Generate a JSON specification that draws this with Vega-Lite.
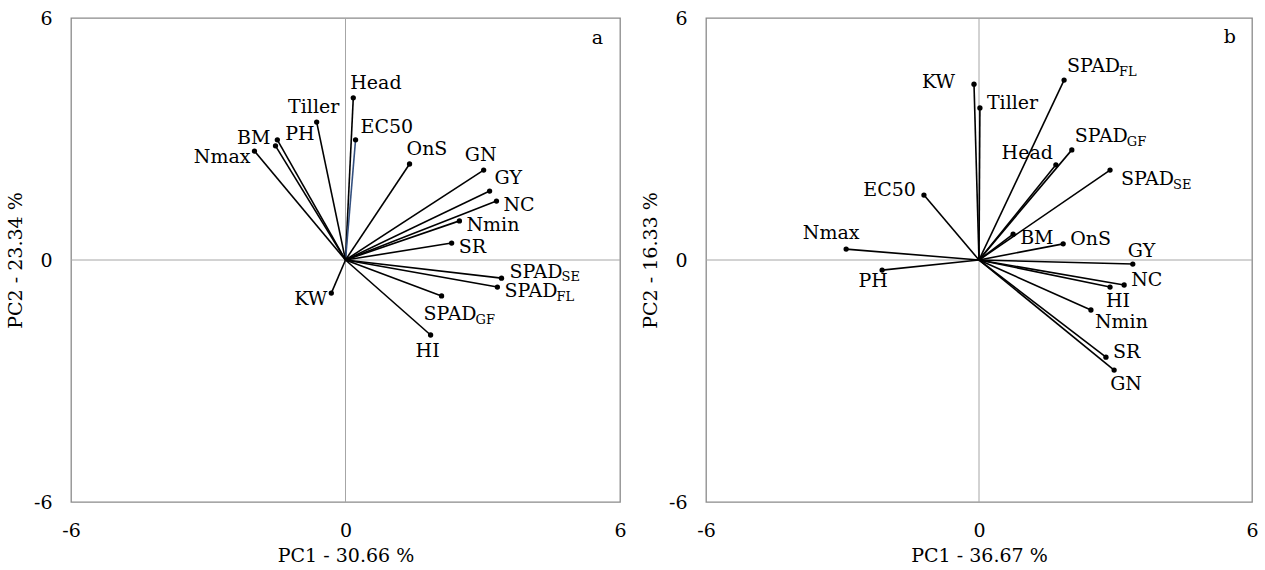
{
  "$schema": "https://vega.github.io/schema/vega-lite/v6.json",
  "padding": {"left": 5, "top": 8, "right": 5, "bottom": 0},
  "background": "white",
  "spacing": 86,
  "bounds": "flush",
  "config": {
    "font": "DejaVu Serif",
    "view": {"stroke": "#8a8a8a", "strokeWidth": 1.3},
    "axis": {"grid": false, "domain": false, "ticks": false, "labelFont": "DejaVu Serif", "labelFontSize": 19, "titleFont": "DejaVu Serif", "titleFontSize": 19, "titleFontWeight": "normal", "labelColor": "#000", "titleColor": "#000", "labelFlush": false, "labelOverlap": false, "labelBound": false, "labelExpr": "'' + datum.value"},
    "text": {"font": "DejaVu Serif", "fontSize": 19, "color": "#000"}
  },
  "datasets": {
    "pa": [
      {"name": "Head", "label": "Head", "sub": "", "x": 0.17, "y": 4.02},
      {"name": "EC50", "label": "EC50", "sub": "", "x": 0.22, "y": 2.98},
      {"name": "Tiller", "label": "Tiller", "sub": "", "x": -0.63, "y": 3.42},
      {"name": "PH", "label": "PH", "sub": "", "x": -1.49, "y": 2.98},
      {"name": "BM", "label": "BM", "sub": "", "x": -1.53, "y": 2.83},
      {"name": "Nmax", "label": "Nmax", "sub": "", "x": -1.99, "y": 2.70},
      {"name": "OnS", "label": "OnS", "sub": "", "x": 1.40, "y": 2.38},
      {"name": "GN", "label": "GN", "sub": "", "x": 3.02, "y": 2.23},
      {"name": "GY", "label": "GY", "sub": "", "x": 3.15, "y": 1.71},
      {"name": "NC", "label": "NC", "sub": "", "x": 3.30, "y": 1.46},
      {"name": "Nmin", "label": "Nmin", "sub": "", "x": 2.49, "y": 0.97},
      {"name": "SR", "label": "SR", "sub": "", "x": 2.32, "y": 0.42},
      {"name": "SPAD_SE", "label": "SPAD", "sub": "SE", "x": 3.41, "y": -0.45},
      {"name": "SPAD_FL", "label": "SPAD", "sub": "FL", "x": 3.32, "y": -0.67},
      {"name": "SPAD_GF", "label": "SPAD", "sub": "GF", "x": 2.10, "y": -0.89},
      {"name": "HI", "label": "HI", "sub": "", "x": 1.86, "y": -1.86},
      {"name": "KW", "label": "KW", "sub": "", "x": -0.31, "y": -0.82}
    ],
    "pb": [
      {"name": "KW", "label": "KW", "sub": "", "x": -0.11, "y": 4.36},
      {"name": "Tiller", "label": "Tiller", "sub": "", "x": 0.02, "y": 3.77},
      {"name": "SPAD_FL", "label": "SPAD", "sub": "FL", "x": 1.87, "y": 4.46},
      {"name": "SPAD_GF", "label": "SPAD", "sub": "GF", "x": 2.04, "y": 2.73},
      {"name": "Head", "label": "Head", "sub": "", "x": 1.69, "y": 2.36},
      {"name": "SPAD_SE", "label": "SPAD", "sub": "SE", "x": 2.88, "y": 2.23},
      {"name": "EC50", "label": "EC50", "sub": "", "x": -1.21, "y": 1.61},
      {"name": "Nmax", "label": "Nmax", "sub": "", "x": -2.92, "y": 0.27},
      {"name": "PH", "label": "PH", "sub": "", "x": -2.13, "y": -0.25},
      {"name": "BM", "label": "BM", "sub": "", "x": 0.75, "y": 0.64},
      {"name": "OnS", "label": "OnS", "sub": "", "x": 1.85, "y": 0.40},
      {"name": "GY", "label": "GY", "sub": "", "x": 3.38, "y": -0.10},
      {"name": "NC", "label": "NC", "sub": "", "x": 3.19, "y": -0.62},
      {"name": "HI", "label": "HI", "sub": "", "x": 2.88, "y": -0.67},
      {"name": "Nmin", "label": "Nmin", "sub": "", "x": 2.46, "y": -1.24},
      {"name": "SR", "label": "SR", "sub": "", "x": 2.79, "y": -2.41},
      {"name": "GN", "label": "GN", "sub": "", "x": 2.97, "y": -2.73}
    ]
  },
  "hconcat": [
    {
      "width": 549,
      "height": 484,
      "data": {"name": "pa"},
      "layer": [
        {
          "mark": {"type": "rule", "color": "#a6a6a6", "strokeWidth": 1},
          "encoding": {
            "x": {"field": "x", "type": "quantitative", "scale": {"domain": [-6, 6], "nice": false, "zero": false}, "axis": {"values": [-6, 0, 6], "title": "PC1 - 30.66 %", "labelPadding": 19, "titlePadding": 6}},
            "y": {"field": "y", "type": "quantitative", "scale": {"domain": [-6, 6], "nice": false, "zero": false}, "axis": {"values": [-6, 0, 6], "title": "PC2 - 23.34 %", "labelPadding": 19, "titlePadding": 8}},
            "opacity": {"value": 0}
          }
        },
        {"data": {"values": [{}]}, "mark": {"type": "rule", "color": "#a6a6a6", "strokeWidth": 1}, "encoding": {"x": {"datum": 0}}},
        {"data": {"values": [{}]}, "mark": {"type": "rule", "color": "#a6a6a6", "strokeWidth": 1}, "encoding": {"y": {"datum": 0}}},
        {
          "mark": {"type": "rule", "strokeWidth": 1.6},
          "encoding": {
            "x": {"field": "x", "type": "quantitative"},
            "y": {"field": "y", "type": "quantitative"},
            "x2": {"datum": 0},
            "y2": {"datum": 0},
            "color": {"condition": {"test": "datum.name === 'EC50'", "value": "#34507f"}, "value": "#000"}
          }
        },
        {
          "mark": {"type": "point", "filled": true, "size": 28, "color": "#000", "opacity": 1},
          "encoding": {"x": {"field": "x", "type": "quantitative"}, "y": {"field": "y", "type": "quantitative"}}
        },
        {"transform": [{"filter": {"field": "name", "oneOf": ["NC", "Nmin", "SR", "SPAD_FL"]}}], "mark": {"type": "text", "align": "left", "baseline": "middle", "dx": 7, "dy": 4}, "encoding": {"x": {"field": "x", "type": "quantitative"}, "y": {"field": "y", "type": "quantitative"}, "text": {"field": "label"}}},
        {"transform": [{"filter": {"field": "name", "oneOf": ["Head", "OnS"]}}], "mark": {"type": "text", "align": "left", "baseline": "middle", "dx": -3, "dy": -15}, "encoding": {"x": {"field": "x", "type": "quantitative"}, "y": {"field": "y", "type": "quantitative"}, "text": {"field": "label"}}},
        {"transform": [{"filter": {"field": "name", "oneOf": ["GY", "EC50"]}}], "mark": {"type": "text", "align": "left", "baseline": "middle", "dx": 5, "dy": -13}, "encoding": {"x": {"field": "x", "type": "quantitative"}, "y": {"field": "y", "type": "quantitative"}, "text": {"field": "label"}}},
        {"transform": [{"filter": {"field": "name", "oneOf": ["PH", "SPAD_SE"]}}], "mark": {"type": "text", "align": "left", "baseline": "middle", "dx": 8, "dy": -6}, "encoding": {"x": {"field": "x", "type": "quantitative"}, "y": {"field": "y", "type": "quantitative"}, "text": {"field": "label"}}},
        {"transform": [{"filter": {"field": "name", "oneOf": ["Tiller", "GN"]}}], "mark": {"type": "text", "align": "center", "baseline": "middle", "dx": -3, "dy": -15}, "encoding": {"x": {"field": "x", "type": "quantitative"}, "y": {"field": "y", "type": "quantitative"}, "text": {"field": "label"}}},
        {"transform": [{"filter": {"field": "name", "oneOf": ["Nmax", "KW"]}}], "mark": {"type": "text", "align": "right", "baseline": "middle", "dx": -4, "dy": 6}, "encoding": {"x": {"field": "x", "type": "quantitative"}, "y": {"field": "y", "type": "quantitative"}, "text": {"field": "label"}}},
        {"transform": [{"filter": {"field": "name", "oneOf": ["BM"]}}], "mark": {"type": "text", "align": "right", "baseline": "middle", "dx": -5, "dy": -8}, "encoding": {"x": {"field": "x", "type": "quantitative"}, "y": {"field": "y", "type": "quantitative"}, "text": {"field": "label"}}},
        {"transform": [{"filter": {"field": "name", "oneOf": ["HI"]}}], "mark": {"type": "text", "align": "center", "baseline": "middle", "dx": -3, "dy": 16}, "encoding": {"x": {"field": "x", "type": "quantitative"}, "y": {"field": "y", "type": "quantitative"}, "text": {"field": "label"}}},
        {"transform": [{"filter": {"field": "name", "oneOf": ["SPAD_GF"]}}], "mark": {"type": "text", "align": "left", "baseline": "middle", "dx": -18, "dy": 18}, "encoding": {"x": {"field": "x", "type": "quantitative"}, "y": {"field": "y", "type": "quantitative"}, "text": {"field": "label"}}},
        {"transform": [{"filter": {"field": "name", "oneOf": ["SPAD_FL"]}}], "mark": {"type": "text", "align": "left", "baseline": "middle", "fontSize": 13, "dx": 59, "dy": 10}, "encoding": {"x": {"field": "x", "type": "quantitative"}, "y": {"field": "y", "type": "quantitative"}, "text": {"field": "sub"}}},
        {"transform": [{"filter": {"field": "name", "oneOf": ["SPAD_SE"]}}], "mark": {"type": "text", "align": "left", "baseline": "middle", "fontSize": 13, "dx": 60, "dy": -1}, "encoding": {"x": {"field": "x", "type": "quantitative"}, "y": {"field": "y", "type": "quantitative"}, "text": {"field": "sub"}}},
        {"transform": [{"filter": {"field": "name", "oneOf": ["SPAD_GF"]}}], "mark": {"type": "text", "align": "left", "baseline": "middle", "fontSize": 13, "dx": 34, "dy": 24}, "encoding": {"x": {"field": "x", "type": "quantitative"}, "y": {"field": "y", "type": "quantitative"}, "text": {"field": "sub"}}},
        {"data": {"values": [{}]}, "mark": {"type": "text", "align": "right", "baseline": "alphabetic", "dx": -17, "dy": 26, "text": "a"}, "encoding": {"x": {"datum": 6}, "y": {"datum": 6}}}
      ]
    },
    {
      "width": 546,
      "height": 484,
      "data": {"name": "pb"},
      "layer": [
        {
          "mark": {"type": "rule", "color": "#a6a6a6", "strokeWidth": 1},
          "encoding": {
            "x": {"field": "x", "type": "quantitative", "scale": {"domain": [-6, 6], "nice": false, "zero": false}, "axis": {"values": [-6, 0, 6], "title": "PC1 - 36.67 %", "labelPadding": 19, "titlePadding": 6}},
            "y": {"field": "y", "type": "quantitative", "scale": {"domain": [-6, 6], "nice": false, "zero": false}, "axis": {"values": [-6, 0, 6], "title": "PC2 - 16.33 %", "labelPadding": 19, "titlePadding": 8}},
            "opacity": {"value": 0}
          }
        },
        {"data": {"values": [{}]}, "mark": {"type": "rule", "color": "#a6a6a6", "strokeWidth": 1}, "encoding": {"x": {"datum": 0}}},
        {"data": {"values": [{}]}, "mark": {"type": "rule", "color": "#a6a6a6", "strokeWidth": 1}, "encoding": {"y": {"datum": 0}}},
        {
          "mark": {"type": "rule", "strokeWidth": 1.6, "color": "#000"},
          "encoding": {
            "x": {"field": "x", "type": "quantitative"},
            "y": {"field": "y", "type": "quantitative"},
            "x2": {"datum": 0},
            "y2": {"datum": 0}
          }
        },
        {
          "mark": {"type": "point", "filled": true, "size": 28, "color": "#000", "opacity": 1},
          "encoding": {"x": {"field": "x", "type": "quantitative"}, "y": {"field": "y", "type": "quantitative"}}
        },
        {"transform": [{"filter": {"field": "name", "oneOf": ["KW"]}}], "mark": {"type": "text", "align": "right", "baseline": "middle", "dx": -19, "dy": -2}, "encoding": {"x": {"field": "x", "type": "quantitative"}, "y": {"field": "y", "type": "quantitative"}, "text": {"field": "label"}}},
        {"transform": [{"filter": {"field": "name", "oneOf": ["Tiller", "OnS", "NC", "SR"]}}], "mark": {"type": "text", "align": "left", "baseline": "middle", "dx": 7, "dy": -5}, "encoding": {"x": {"field": "x", "type": "quantitative"}, "y": {"field": "y", "type": "quantitative"}, "text": {"field": "label"}}},
        {"transform": [{"filter": {"field": "name", "oneOf": ["SPAD_FL", "SPAD_GF"]}}], "mark": {"type": "text", "align": "left", "baseline": "middle", "dx": 3, "dy": -14}, "encoding": {"x": {"field": "x", "type": "quantitative"}, "y": {"field": "y", "type": "quantitative"}, "text": {"field": "label"}}},
        {"transform": [{"filter": {"field": "name", "oneOf": ["Head"]}}], "mark": {"type": "text", "align": "right", "baseline": "middle", "dx": -3, "dy": -12}, "encoding": {"x": {"field": "x", "type": "quantitative"}, "y": {"field": "y", "type": "quantitative"}, "text": {"field": "label"}}},
        {"transform": [{"filter": {"field": "name", "oneOf": ["EC50"]}}], "mark": {"type": "text", "align": "right", "baseline": "middle", "dx": -8, "dy": -5}, "encoding": {"x": {"field": "x", "type": "quantitative"}, "y": {"field": "y", "type": "quantitative"}, "text": {"field": "label"}}},
        {"transform": [{"filter": {"field": "name", "oneOf": ["SPAD_SE"]}}], "mark": {"type": "text", "align": "left", "baseline": "middle", "dx": 11, "dy": 9}, "encoding": {"x": {"field": "x", "type": "quantitative"}, "y": {"field": "y", "type": "quantitative"}, "text": {"field": "label"}}},
        {"transform": [{"filter": {"field": "name", "oneOf": ["BM"]}}], "mark": {"type": "text", "align": "left", "baseline": "middle", "dx": 7, "dy": 4}, "encoding": {"x": {"field": "x", "type": "quantitative"}, "y": {"field": "y", "type": "quantitative"}, "text": {"field": "label"}}},
        {"transform": [{"filter": {"field": "name", "oneOf": ["HI", "GN"]}}], "mark": {"type": "text", "align": "left", "baseline": "middle", "dx": -4, "dy": 14}, "encoding": {"x": {"field": "x", "type": "quantitative"}, "y": {"field": "y", "type": "quantitative"}, "text": {"field": "label"}}},
        {"transform": [{"filter": {"field": "name", "oneOf": ["Nmin"]}}], "mark": {"type": "text", "align": "left", "baseline": "middle", "dx": 4, "dy": 12}, "encoding": {"x": {"field": "x", "type": "quantitative"}, "y": {"field": "y", "type": "quantitative"}, "text": {"field": "label"}}},
        {"transform": [{"filter": {"field": "name", "oneOf": ["Nmax"]}}], "mark": {"type": "text", "align": "center", "baseline": "middle", "dx": -15, "dy": -16}, "encoding": {"x": {"field": "x", "type": "quantitative"}, "y": {"field": "y", "type": "quantitative"}, "text": {"field": "label"}}},
        {"transform": [{"filter": {"field": "name", "oneOf": ["PH"]}}], "mark": {"type": "text", "align": "center", "baseline": "middle", "dx": -9, "dy": 11}, "encoding": {"x": {"field": "x", "type": "quantitative"}, "y": {"field": "y", "type": "quantitative"}, "text": {"field": "label"}}},
        {"transform": [{"filter": {"field": "name", "oneOf": ["GY"]}}], "mark": {"type": "text", "align": "left", "baseline": "middle", "dx": -5, "dy": -13}, "encoding": {"x": {"field": "x", "type": "quantitative"}, "y": {"field": "y", "type": "quantitative"}, "text": {"field": "label"}}},
        {"transform": [{"filter": {"field": "name", "oneOf": ["SPAD_FL", "SPAD_GF"]}}], "mark": {"type": "text", "align": "left", "baseline": "middle", "fontSize": 13, "dx": 55, "dy": -8}, "encoding": {"x": {"field": "x", "type": "quantitative"}, "y": {"field": "y", "type": "quantitative"}, "text": {"field": "sub"}}},
        {"transform": [{"filter": {"field": "name", "oneOf": ["SPAD_SE"]}}], "mark": {"type": "text", "align": "left", "baseline": "middle", "fontSize": 13, "dx": 63, "dy": 15}, "encoding": {"x": {"field": "x", "type": "quantitative"}, "y": {"field": "y", "type": "quantitative"}, "text": {"field": "sub"}}},
        {"data": {"values": [{}]}, "mark": {"type": "text", "align": "right", "baseline": "alphabetic", "dx": -16, "dy": 25, "text": "b"}, "encoding": {"x": {"datum": 6}, "y": {"datum": 6}}}
      ]
    }
  ]
}
